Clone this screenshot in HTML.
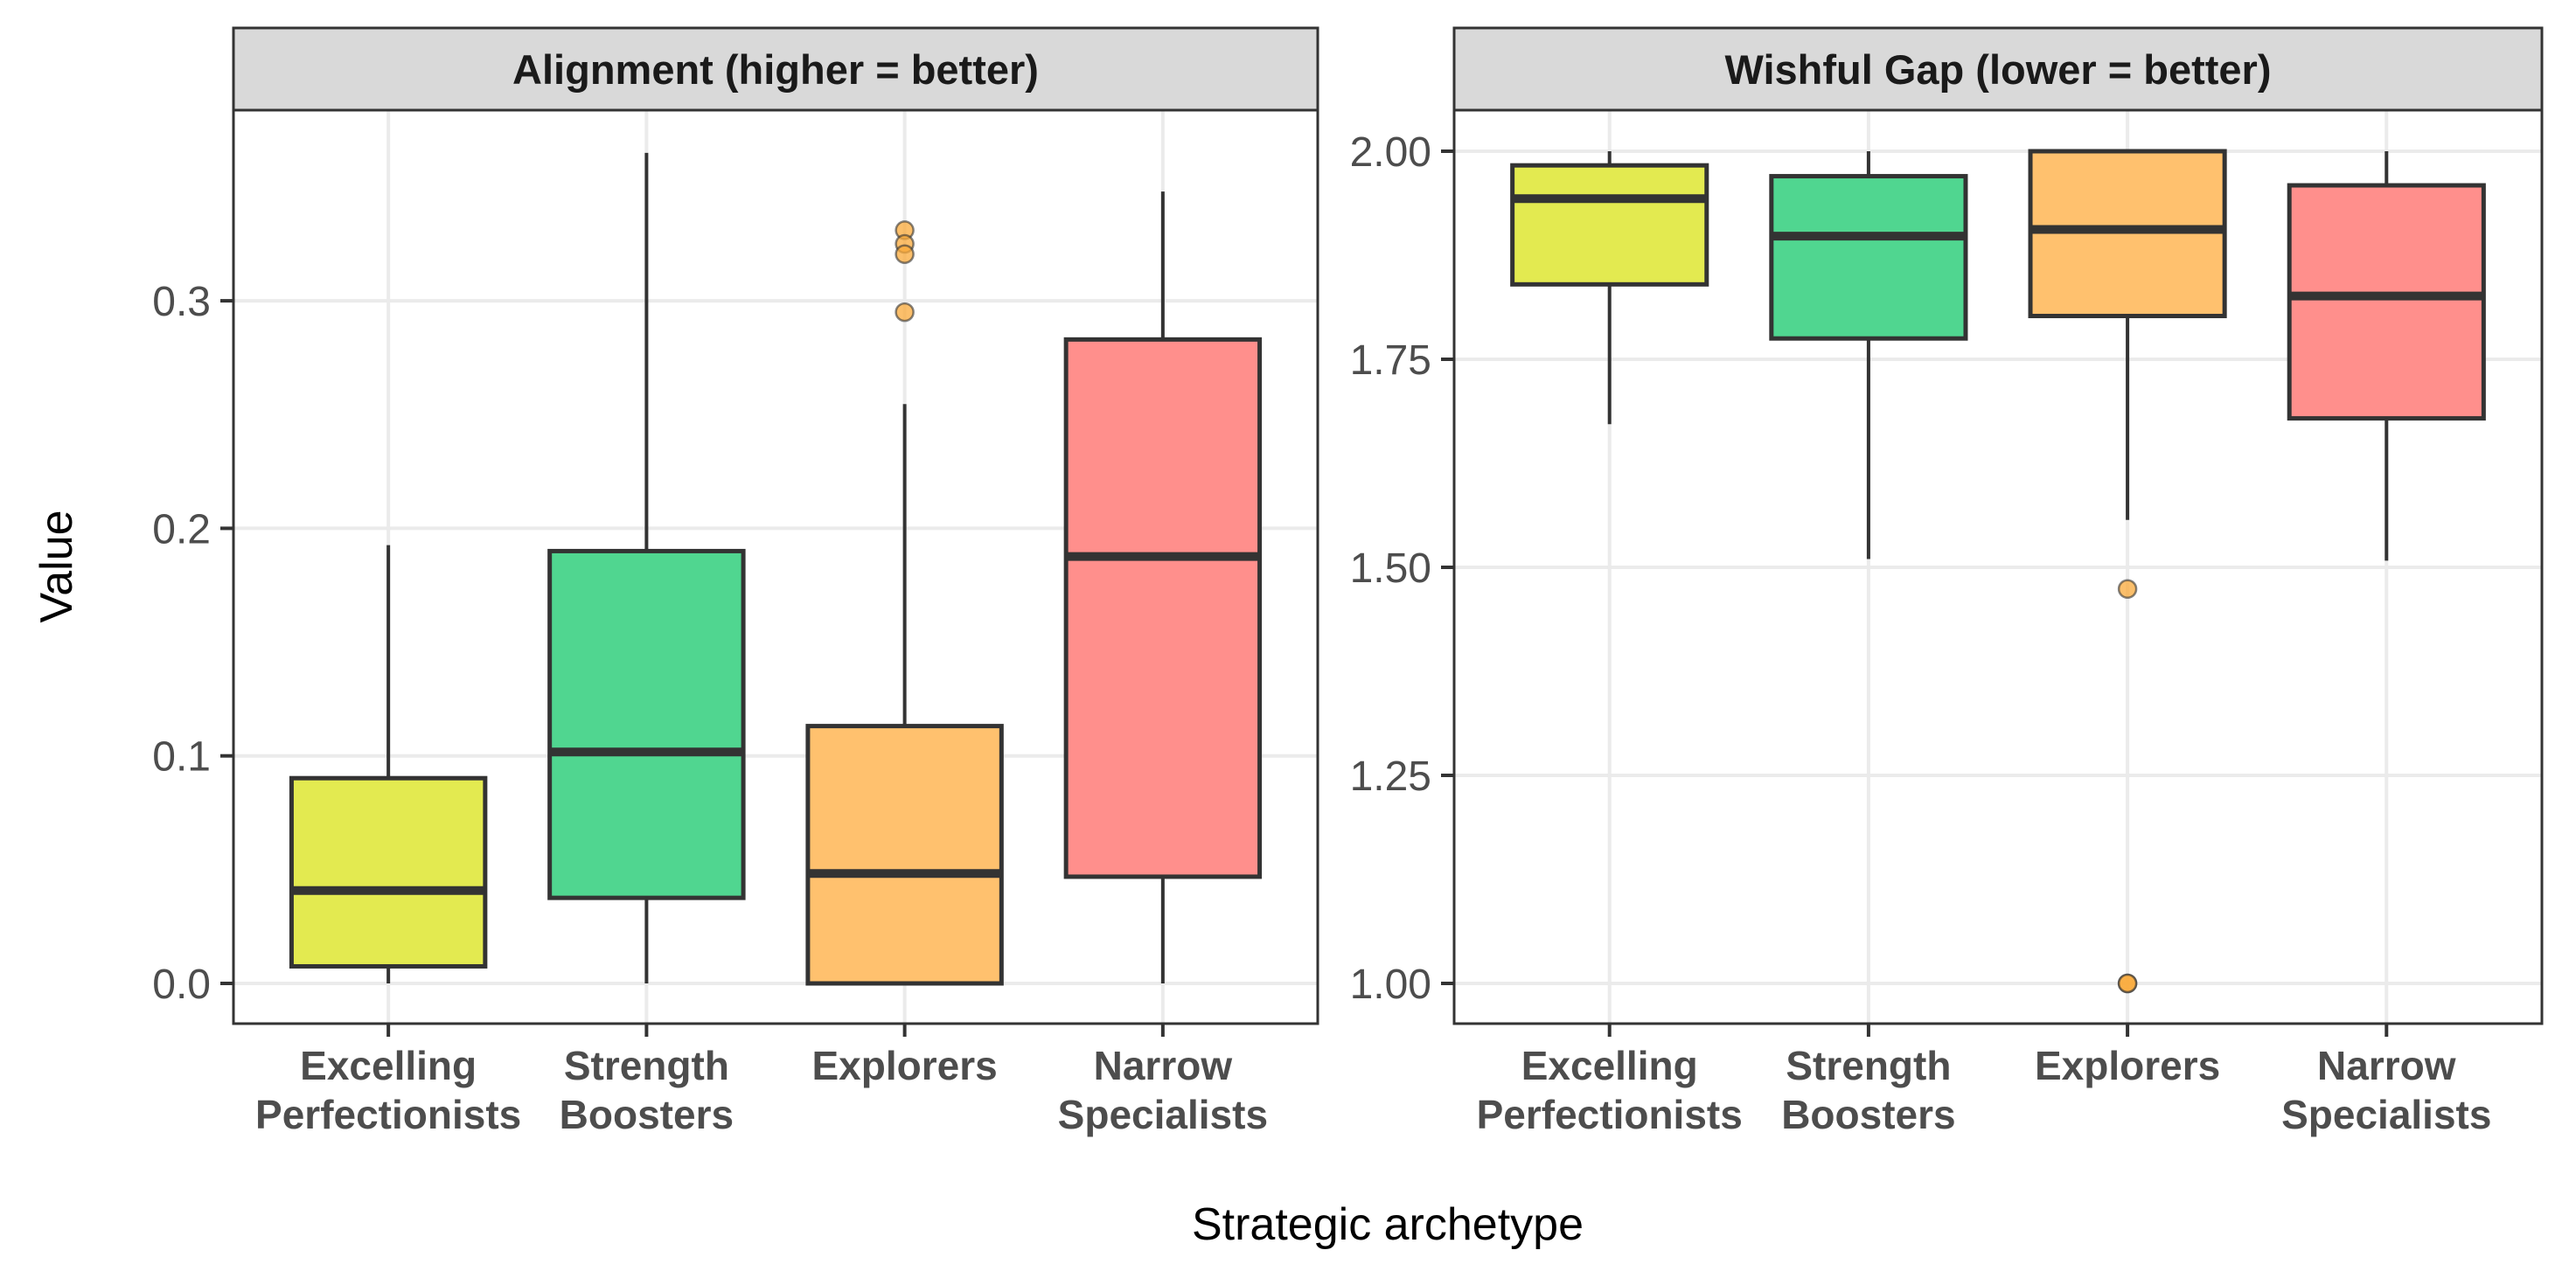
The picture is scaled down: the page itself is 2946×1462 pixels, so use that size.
<!DOCTYPE html>
<html><head><meta charset="utf-8"><style>
html,body{margin:0;padding:0;background:#fff;}
svg{display:block;font-family:"Liberation Sans",Arial,sans-serif;}
</style></head><body>
<svg id="chart" width="2946" height="1462" viewBox="0 0 2946 1462" xmlns="http://www.w3.org/2000/svg">
<text x="0" y="0" transform="translate(82,648) rotate(-90)" text-anchor="middle" font-size="52" fill="#000">Value</text>
<text x="1587" y="1418" text-anchor="middle" font-size="52" fill="#000">Strategic archetype</text>
</svg>
<script>
const categories = ["Excelling|Perfectionists","Strength|Boosters","Explorers","Narrow|Specialists"];
const fills = ["#e3ea50","#50d690","#ffc16e","#ff8f8c"];
const panelTitles = ["Alignment (higher = better)","Wishful Gap (lower = better)"];
// [min, q1, median, q3, max]
const alignStats = [[0,0.0075,0.0408,0.0902,0.1926],[0,0.0376,0.1017,0.190,0.365],[0,0,0.0483,0.1131,0.2546],[0,0.0469,0.1876,0.283,0.348]];
const alignOutliers = [[],[],[0.331,0.325,0.3205,0.295],[]];
const alignTicks = ["0.0","0.1","0.2","0.3"];
const alignTickVals = [0,0.1,0.2,0.3];
const gapStats = [[1.672,1.840,1.943,1.983,2.0],[1.510,1.775,1.898,1.970,2.0],[1.557,1.802,1.906,2.0,2.0],[1.508,1.679,1.826,1.959,2.0]];
const gapOutliers = [[],[],[1.474,1.0,1.0],[]];
const gapTicks = ["1.00","1.25","1.50","1.75","2.00"];
const gapTickVals = [1,1.25,1.5,1.75,2];

const SVGNS="http://www.w3.org/2000/svg";
const chartSvg=document.getElementById('chart');
function el(tag,attrs,parent){const e=document.createElementNS(SVGNS,tag);for(const k in attrs)e.setAttribute(k,attrs[k]);(parent||chartSvg).appendChild(e);return e;}

const plotTop=126,plotBottom=1171,stripTop=32;
const panels=[
 {x0:267,x1:1507,y:v=>1125-v*2603,stats:alignStats,out:alignOutliers,ticks:alignTicks,tv:alignTickVals},
 {x0:1663,x1:2907,y:v=>173+(2-v)*952,stats:gapStats,out:gapOutliers,ticks:gapTicks,tv:gapTickVals}
];
panels.forEach((p,pi)=>{
 const g=el('g',{});
 
 
 const w=p.x1-p.x0, step=w/4.2;
 const xc=i=>p.x0+step*(0.6+i);
 const s=el('rect',{x:p.x0,y:stripTop,width:w,height:plotTop-stripTop,fill:'#d9d9d9',stroke:'#333','stroke-width':3},g);
 
 
 const st=el('text',{x:(p.x0+p.x1)/2,y:96,'text-anchor':'middle','font-size':47,'font-weight':'bold',fill:'#1a1a1a'},g);
 st.textContent=panelTitles[pi];
 
 
 p.tv.forEach((v,i)=>{
  const yy=p.y(v);
  const gl=el('line',{x1:p.x0,x2:p.x1,y1:yy,y2:yy,stroke:'#ebebeb','stroke-width':4},g);
  
  
  const tk=el('line',{x1:p.x0-15,x2:p.x0,y1:yy,y2:yy,stroke:'#333','stroke-width':4},g);
  
  
  const tl=el('text',{x:p.x0-26,y:yy+17,'text-anchor':'end','font-size':48,fill:'#4d4d4d'},g);
  tl.textContent=p.ticks[i];
  
  
 });
 categories.forEach((c,i)=>{
  const x=xc(i);
  const vg=el('line',{x1:x,x2:x,y1:plotTop,y2:plotBottom,stroke:'#ebebeb','stroke-width':4},g);
  
  
 });
 categories.forEach((c,i)=>{
  const x=xc(i), bw=step*0.75, sv=p.stats[i];
  const wh=el('line',{x1:x,x2:x,y1:p.y(sv[0]),y2:p.y(sv[4]),stroke:'#333','stroke-width':4},g);
  
  
  const b=el('rect',{x:x-bw/2,y:p.y(sv[3]),width:bw,height:Math.max(0,p.y(sv[1])-p.y(sv[3])),fill:fills[i],stroke:'#333','stroke-width':5},g);
  
  
  const m=el('line',{x1:x-bw/2,x2:x+bw/2,y1:p.y(sv[2]),y2:p.y(sv[2]),stroke:'#333','stroke-width':10},g);
  
  
  p.out[i].forEach(v=>{
   const o=el('circle',{cx:x,cy:p.y(v),r:10,fill:'#f9a93a','fill-opacity':0.75,stroke:'#333','stroke-opacity':0.6,'stroke-width':2.5},g);
   
   
  });
  const tk=el('line',{x1:x,x2:x,y1:plotBottom,y2:plotBottom+15,stroke:'#333','stroke-width':4},g);
  
  
  c.split('|').forEach((ln,j)=>{
   const t=el('text',{x:x,y:1235+j*56,'text-anchor':'middle','font-size':46,'font-weight':'bold',fill:'#4d4d4d'},g);
   t.textContent=ln;
   
   
  });
 });
 const bd=el('rect',{x:p.x0,y:plotTop,width:w,height:plotBottom-plotTop,fill:'none',stroke:'#333','stroke-width':3},g);
 
 
});
</script>
</body></html>
